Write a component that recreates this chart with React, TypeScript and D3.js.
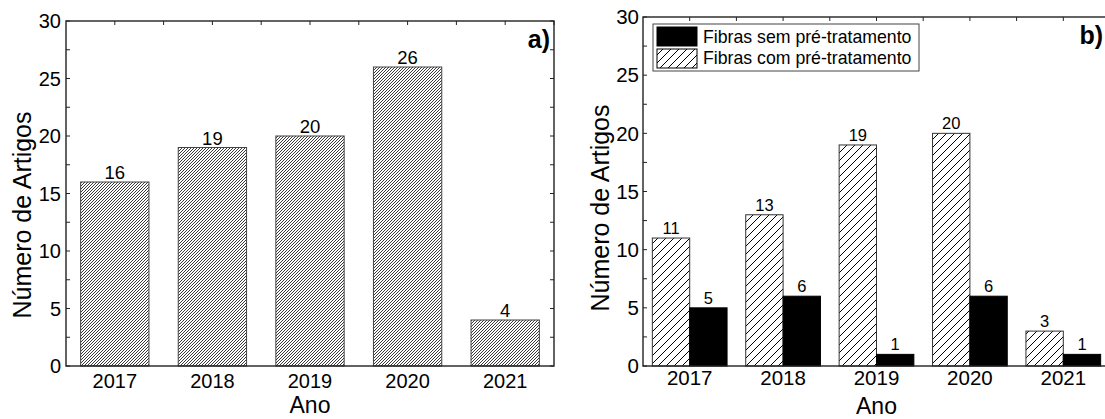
import { useRef, useEffect } from "react";
import * as d3 from "d3";

const years = ["2017", "2018", "2019", "2020", "2021"];
const totalArticles = [16, 19, 20, 26, 4];
const comPreTratamento = [11, 13, 19, 20, 3];
const semPreTratamento = [5, 6, 1, 6, 1];
const yTicks = [0, 5, 10, 15, 20, 25, 30];
const legendLabels = ["Fibras sem pré-tratamento", "Fibras com pré-tratamento"];

const FONT = "'Liberation Sans', Arial, Helvetica, sans-serif";

type Frame = { x0: number; x1: number; y0: number; y1: number };

// frame + inward ticks on all four sides
function drawFrame(
  g: d3.Selection<SVGGElement, unknown, null, undefined>,
  f: Frame,
  y: d3.ScaleLinear<number, number>,
  x: d3.ScaleBand<string>
) {
  const minor = d3.range(0, 30.01, 2.5);
  const tl = 4;
  const ticks = g.append("g").attr("stroke", "#222").attr("stroke-width", 1);
  minor.forEach((v) => {
    ticks.append("line").attr("x1", f.x0).attr("x2", f.x0 + tl).attr("y1", y(v)).attr("y2", y(v));
    ticks.append("line").attr("x1", f.x1).attr("x2", f.x1 - tl).attr("y1", y(v)).attr("y2", y(v));
  });
  const step = x.step();
  years.forEach((yr) => {
    const c = (x(yr) as number) + x.bandwidth() / 2;
    [c, c + step / 2].forEach((cx) => {
      if (cx < f.x1)
        ticks.append("line").attr("x1", cx).attr("x2", cx).attr("y1", f.y1).attr("y2", f.y1 + tl);
    });
  });
  g.append("rect")
    .attr("x", f.x0)
    .attr("y", f.y1)
    .attr("width", f.x1 - f.x0)
    .attr("height", f.y0 - f.y1)
    .attr("fill", "none")
    .attr("stroke", "#222")
    .attr("stroke-width", 1.4);
}

export default function App() {
  const svgRef = useRef<SVGSVGElement>(null);

  useEffect(() => {
    const svg = d3.select(svgRef.current as SVGSVGElement);
    svg.selectAll("*").remove();

    // hatch patterns
    const defs = svg.append("defs");
    const dense = defs
      .append("pattern")
      .attr("id", "hatchDense")
      .attr("patternUnits", "userSpaceOnUse")
      .attr("width", 3)
      .attr("height", 3);
    dense.append("rect").attr("width", 3).attr("height", 3).attr("fill", "#fff");
    dense
      .append("path")
      .attr("d", "M0,3 L3,0 M-1,1 L1,-1 M2,4 L4,2")
      .attr("stroke", "#222")
      .attr("stroke-width", 0.9);
    const wide = defs
      .append("pattern")
      .attr("id", "hatchWide")
      .attr("patternUnits", "userSpaceOnUse")
      .attr("width", 8)
      .attr("height", 8);
    wide.append("rect").attr("width", 8).attr("height", 8).attr("fill", "#fff");
    wide
      .append("path")
      .attr("d", "M0,8 L8,0 M-2,2 L2,-2 M6,10 L10,6")
      .attr("stroke", "#000")
      .attr("stroke-width", 1);

    // ---------- panel a ----------
    const fa: Frame = { x0: 66, x1: 554, y0: 366, y1: 21 };
    const xa = d3.scaleBand().domain(years).range([fa.x0, fa.x1]).paddingInner(0.3).paddingOuter(0.15);
    const ya = d3.scaleLinear().domain([0, 30]).range([fa.y0, fa.y1]);
    const ga = svg.append("g");

    ga.selectAll("rect.bar")
      .data(totalArticles)
      .join("rect")
      .attr("class", "bar")
      .attr("x", (_, i) => xa(years[i]) as number)
      .attr("y", (v) => ya(v))
      .attr("width", xa.bandwidth())
      .attr("height", (v) => fa.y0 - ya(v))
      .attr("fill", "url(#hatchDense)")
      .attr("stroke", "#444")
      .attr("stroke-width", 1);

    ga.selectAll("text.val")
      .data(totalArticles)
      .join("text")
      .attr("class", "val")
      .attr("x", (_, i) => (xa(years[i]) as number) + xa.bandwidth() / 2)
      .attr("y", (v) => ya(v) - 3)
      .attr("text-anchor", "middle")
      .attr("font-size", 18.5)
      .text((v) => v);

    drawFrame(ga, fa, ya, xa);

    ga.selectAll("text.ytick")
      .data(yTicks)
      .join("text")
      .attr("class", "ytick")
      .attr("x", fa.x0 - 5)
      .attr("y", (v) => ya(v))
      .attr("dy", "0.35em")
      .attr("text-anchor", "end")
      .attr("font-size", 20)
      .text((v) => v);

    ga.selectAll("text.xtick")
      .data(years)
      .join("text")
      .attr("class", "xtick")
      .attr("x", (d) => (xa(d) as number) + xa.bandwidth() / 2)
      .attr("y", 388)
      .attr("text-anchor", "middle")
      .attr("font-size", 20)
      .text((d) => d);

    ga.append("text")
      .attr("x", 310)
      .attr("y", 413)
      .attr("text-anchor", "middle")
      .attr("font-size", 23)
      .text("Ano");

    ga.append("text")
      .attr("transform", "translate(31,215) rotate(-90)")
      .attr("text-anchor", "middle")
      .attr("font-size", 25)
      .text("Número de Artigos");

    ga.append("text")
      .attr("x", 550)
      .attr("y", 48)
      .attr("text-anchor", "end")
      .attr("font-size", 25)
      .attr("font-weight", "bold")
      .text("a)");

    // ---------- panel b ----------
    const fb: Frame = { x0: 643, x1: 1110, y0: 366, y1: 17 };
    const xb = d3.scaleBand().domain(years).range([fb.x0, fb.x1]).paddingInner(0.2).paddingOuter(0.1);
    const xs = d3.scaleBand().domain(["com", "sem"]).range([0, xb.bandwidth()]);
    const yb = d3.scaleLinear().domain([0, 30]).range([fb.y0, fb.y1]);
    const gb = svg.append("g");

    const series = [
      { key: "com", values: comPreTratamento, fill: "url(#hatchWide)", stroke: "#333" },
      { key: "sem", values: semPreTratamento, fill: "#000", stroke: "#000" },
    ];

    series.forEach((s) => {
      gb.selectAll(`rect.bar-${s.key}`)
        .data(s.values)
        .join("rect")
        .attr("class", `bar-${s.key}`)
        .attr("x", (_, i) => (xb(years[i]) as number) + (xs(s.key) as number))
        .attr("y", (v) => yb(v))
        .attr("width", xs.bandwidth())
        .attr("height", (v) => fb.y0 - yb(v))
        .attr("fill", s.fill)
        .attr("stroke", s.stroke)
        .attr("stroke-width", 1);

      gb.selectAll(`text.val-${s.key}`)
        .data(s.values)
        .join("text")
        .attr("class", `val-${s.key}`)
        .attr("x", (_, i) => (xb(years[i]) as number) + (xs(s.key) as number) + xs.bandwidth() / 2)
        .attr("y", (v) => yb(v) - 4)
        .attr("text-anchor", "middle")
        .attr("font-size", 16.5)
        .text((v) => v);
    });

    drawFrame(gb, fb, yb, xb);

    gb.selectAll("text.ytick")
      .data(yTicks)
      .join("text")
      .attr("class", "ytick")
      .attr("x", fb.x0 - 4)
      .attr("y", (v) => yb(v))
      .attr("dy", "0.35em")
      .attr("text-anchor", "end")
      .attr("font-size", 20.5)
      .text((v) => v);

    gb.selectAll("text.xtick")
      .data(years)
      .join("text")
      .attr("class", "xtick")
      .attr("x", (d) => (xb(d) as number) + xb.bandwidth() / 2)
      .attr("y", 385)
      .attr("text-anchor", "middle")
      .attr("font-size", 20.5)
      .text((d) => d);

    gb.append("text")
      .attr("x", (xb("2019") as number) + xb.bandwidth() / 2)
      .attr("y", 414)
      .attr("text-anchor", "middle")
      .attr("font-size", 23)
      .text("Ano");

    gb.append("text")
      .attr("transform", "translate(609,208) rotate(-90)")
      .attr("text-anchor", "middle")
      .attr("font-size", 25)
      .text("Número de Artigos");

    gb.append("text")
      .attr("x", 1103)
      .attr("y", 44)
      .attr("text-anchor", "end")
      .attr("font-size", 25)
      .attr("font-weight", "bold")
      .text("b)");

    // legend
    const lg = gb.append("g");
    lg.append("rect")
      .attr("x", 653)
      .attr("y", 24)
      .attr("width", 266)
      .attr("height", 47)
      .attr("fill", "#fff")
      .attr("stroke", "#444")
      .attr("stroke-width", 1);
    const swatchFills = ["#000", "url(#hatchWide)"];
    legendLabels.forEach((label, i) => {
      lg.append("rect")
        .attr("x", 657)
        .attr("y", 27 + i * 22)
        .attr("width", 40)
        .attr("height", 19)
        .attr("fill", swatchFills[i])
        .attr("stroke", "#000")
        .attr("stroke-width", 1);
      lg.append("text")
        .attr("x", 703)
        .attr("y", 43 + i * 21)
        .attr("font-size", 17.7)
        .text(label);
    });
  }, []);

  return (
    <div style={{ position: "absolute", left: 0, top: 0 }}>
      <svg
        ref={svgRef}
        width={1105}
        height={419}
        style={{ display: "block", fontFamily: FONT, background: "#fff" }}
      ></svg>
    </div>
  );
}
